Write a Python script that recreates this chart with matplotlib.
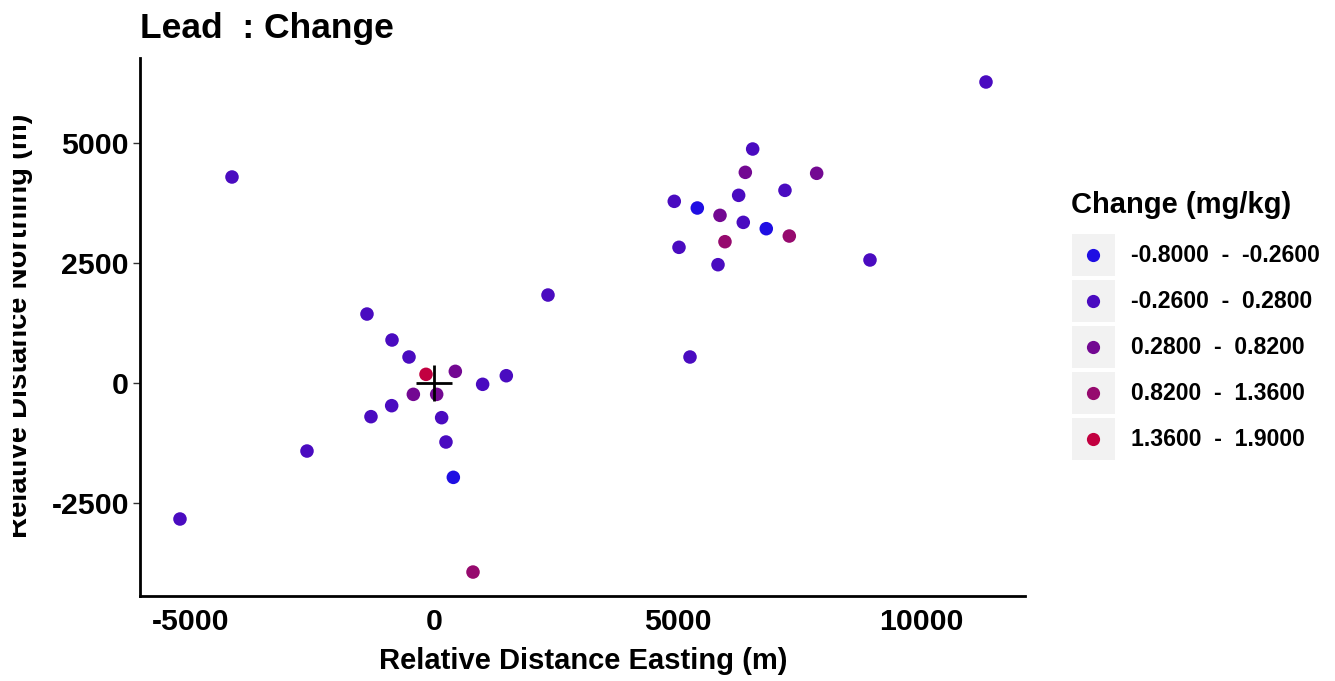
import matplotlib
matplotlib.use("Agg")
import matplotlib.pyplot as plt
from matplotlib.patches import Rectangle
from matplotlib.lines import Line2D
from matplotlib.transforms import Bbox, TransformedBbox

plt.rcParams['font.family'] = ['Liberation Sans', 'DejaVu Sans']
plt.rcParams['font.weight'] = 'bold'
plt.rcParams['axes.unicode_minus'] = False

# Data
easting = [11335, -4148, -5216, -2608, -1376, -862, -513, -164, 438, 999, 1485,
           -424, 55, -869, -1294, 157, 246, 397, 801, 2341, 5257,
           6544, 6393, 7858, 6256, 7207, 4934, 5407, 5873, 6351, 6823,
           7296, 5975, 5031, 5832, 8953]
northing = [6271, 4292, -2833, -1417, 1437, 896, 542, 181, 243, -27, 152,
            -236, -236, -472, -701, -722, -1229, -1965, -3938, 1833, 542,
            4875, 4389, 4369, 3910, 4014, 3785, 3646, 3493, 3347, 3215,
            3062, 2944, 2827, 2465, 2563]
level = [2, 2, 2, 2, 2, 2, 2, 5, 3, 2, 2,
         3, 3, 2, 2, 2, 2, 1, 4, 2, 2,
         2, 3, 3, 2, 2, 2, 1, 3, 2, 1,
         4, 4, 2, 2, 2]
class_labels = ["-0.8000  -  -0.2600", "-0.2600  -  0.2800", "0.2800  -  0.8200",
                "0.8200  -  1.3600", "1.3600  -  1.9000"]
class_colors = ["#1f0ee3", "#4a0bc0", "#730892", "#960a6e", "#c20040"]
xticks = [-5000, 0, 5000, 10000]
yticks = [-2500, 0, 2500, 5000]

W, H = 1335, 681
fig = plt.figure(figsize=(W / 100, H / 100), dpi=100)
ax = fig.add_axes([140 / W, 1 - 596 / H, (1025 - 140) / W, (596 - 58) / H])

cols = [class_colors[l - 1] for l in level]
ax.scatter(easting, northing, c=cols, s=95, linewidths=0, zorder=3)
ax.plot([0], [0], marker='+', color='black', markersize=26, markeredgewidth=2, zorder=4)

ax.set_xlim(-6037, 12136)
ax.set_ylim(-4437, 6771)
ax.set_xticks(xticks)
ax.set_yticks(yticks)
ax.tick_params(axis='x', length=0, labelsize=21.8, pad=9)
ax.tick_params(axis='y', length=5, width=1, labelsize=21.8, pad=3, color='#333333')
for lab in ax.get_xticklabels() + ax.get_yticklabels():
    lab.set_fontweight('bold')
for s in ['top', 'right']:
    ax.spines[s].set_visible(False)
for s in ['left', 'bottom']:
    ax.spines[s].set_linewidth(2)
    ax.spines[s].set_color('black')

fig.text(583 / W, 1 - 661 / H, "Relative Distance Easting (m)", ha='center', va='center',
         fontsize=21, fontweight='bold')
ylab = fig.text(33 / W, 1 - 326 / H, "Relative Distance Northing (m)", ha='right',
                va='center', rotation=90, fontsize=21, fontweight='bold')
ylab.set_clip_box(TransformedBbox(Bbox([[13 / W, 0], [1, 1]]), fig.transFigure))
ylab.set_clip_on(True)
fig.text(140 / W, 1 - 38 / H, "Lead  : Change", ha='left', va='baseline',
         fontsize=25.5, fontweight='bold')

# Legend
fig.text(1071 / W, 1 - 205 / H, "Change (mg/kg)", ha='left', va='center',
         fontsize=21, fontweight='bold')
for i, (lab, c) in enumerate(zip(class_labels, class_colors)):
    yc = 255 + i * 46
    fig.patches.append(Rectangle((1072 / W, 1 - (yc + 21) / H), 43 / W, 42 / H,
                                 transform=fig.transFigure, facecolor='#f2f2f2',
                                 edgecolor='none'))
    fig.lines.append(Line2D([1093 / W], [1 - yc / H], transform=fig.transFigure,
                            marker='o', markersize=9.5, color=c, markeredgewidth=0))
    fig.text(1131 / W, 1 - yc / H, lab, ha='left', va='center', fontsize=16.6,
             fontweight='bold')

fig.savefig("out.png", dpi=100)
